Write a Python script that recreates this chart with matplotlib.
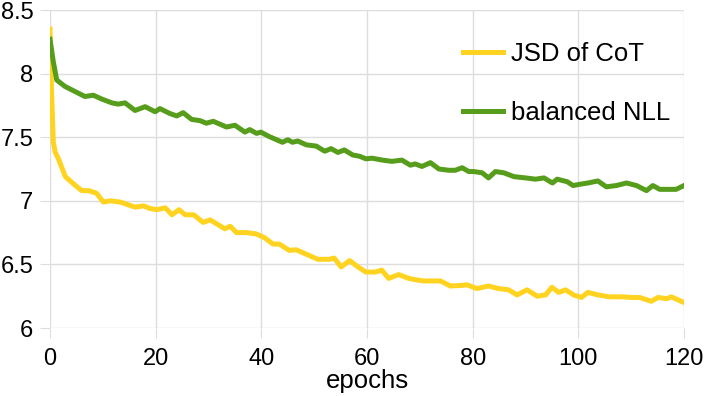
import matplotlib.pyplot as plt

jsd_epochs = [0, 0.3, 0.63, 1.0, 1.6, 2.9, 4.4, 6.0, 7.3, 8.8, 10.1, 11.4, 13.3, 16.1, 17.7, 18.9,
              20.2, 21.8, 23.1, 24.4, 25.6, 27.2, 29.0, 30.3, 31.9, 33.1, 34.1, 35.3, 37.2, 39.0,
              40.6, 42.2, 43.4, 45.3, 46.6, 48.5, 50.7, 52.9, 53.8, 55.1, 56.7, 58.3, 59.8,
              61.6, 62.8, 64.1, 66.0, 67.9, 69.1, 70.7, 72.3, 73.9, 75.8, 78.0, 78.9, 80.8,
              83.0, 84.9, 86.8, 88.4, 90.3, 92.2, 93.8, 95.0, 96.3, 97.6, 99.1, 100.6, 101.8,
              103.7, 105.9, 108.5, 110.0, 111.6, 113.8, 115.1, 116.7, 117.6, 120.0]
jsd_values = [8.35, 7.85, 7.46, 7.38, 7.33, 7.19, 7.135, 7.08, 7.08, 7.06, 6.99, 7.0, 6.99, 6.95, 6.96, 6.94,
              6.93, 6.945, 6.89, 6.93, 6.89, 6.89, 6.83, 6.85, 6.81, 6.78, 6.80, 6.75, 6.75, 6.74,
              6.71, 6.66, 6.66, 6.61, 6.615, 6.58, 6.54, 6.54, 6.55, 6.48, 6.53, 6.48, 6.44,
              6.44, 6.455, 6.39, 6.42, 6.39, 6.38, 6.37, 6.37, 6.37, 6.33, 6.335, 6.34, 6.31,
              6.33, 6.31, 6.30, 6.26, 6.30, 6.25, 6.26, 6.32, 6.28, 6.30, 6.26, 6.24, 6.28,
              6.26, 6.245, 6.245, 6.24, 6.24, 6.21, 6.24, 6.23, 6.245, 6.20]

nll_epochs = [0, 0.6, 1.26, 2.8, 4.7, 6.6, 8.2, 9.8, 11.7, 12.9, 14.2, 16.1, 18.0, 19.9,
              20.8, 22.7, 24.0, 25.2, 26.8, 28.4, 29.6, 30.9, 33.4, 35.0, 36.9, 37.8, 39.1, 39.9,
              41.5, 44.0, 45.0, 45.9, 46.9, 48.5, 50.4, 52.0, 53.2, 54.5, 55.7, 57.3, 58.6, 59.8,
              60.95, 62.9, 64.7, 66.6, 68.2, 69.1, 70.4, 72.0, 73.6, 75.5, 76.7, 78.0, 79.25,
              80.2, 81.8, 83.0, 84.3, 85.9, 87.8, 90.0, 91.9, 93.5, 95.1, 96.0, 97.9, 99.0,
              100.3, 101.8, 103.7, 105.3, 107.2, 109.1, 111.0, 112.9, 114.1, 115.4, 117.0, 118.5, 120.0]
nll_values = [8.27, 8.1, 7.95, 7.90, 7.86, 7.82, 7.83, 7.80, 7.77, 7.76, 7.77, 7.71, 7.74, 7.70,
              7.725, 7.686, 7.667, 7.693, 7.64, 7.63, 7.61, 7.625, 7.58, 7.594, 7.54, 7.56, 7.53, 7.54,
              7.505, 7.46, 7.48, 7.46, 7.47, 7.44, 7.43, 7.39, 7.41, 7.38, 7.40, 7.36, 7.35, 7.33,
              7.335, 7.32, 7.31, 7.32, 7.28, 7.29, 7.27, 7.30, 7.25, 7.24, 7.24, 7.26, 7.23,
              7.23, 7.22, 7.18, 7.23, 7.22, 7.19, 7.18, 7.17, 7.18, 7.14, 7.17, 7.15, 7.12,
              7.13, 7.14, 7.156, 7.11, 7.12, 7.14, 7.12, 7.08, 7.12, 7.09, 7.09, 7.09, 7.12]

plt.rcParams['font.family'] = ['Liberation Sans', 'DejaVu Sans']

fig = plt.figure(figsize=(7.06, 3.96), dpi=100)
ax = fig.add_axes([50 / 706, 1 - 328 / 396, 634 / 706, 318 / 396])

ax.plot(jsd_epochs, jsd_values, color='#ffd320', lw=3.6, label='JSD of CoT', solid_joinstyle='round')
ax.plot(nll_epochs, nll_values, color='#579d1c', lw=3.6, label='balanced NLL', solid_joinstyle='round')

ax.set_xlim(0, 120)
ax.set_ylim(6, 8.5)
ax.set_xticks(range(0, 121, 20))
ax.set_yticks([6, 6.5, 7, 7.5, 8, 8.5])
ax.set_yticklabels(['6', '6.5', '7', '7.5', '8', '8.5'])
ax.grid(True, color='#dddddd', lw=1)
ax.set_axisbelow(True)
for s in ax.spines.values():
    s.set_visible(False)
ax.tick_params(colors='#dddddd', labelcolor='black', labelsize=17, length=7)
ax.tick_params(axis='y', pad=5)
ax.tick_params(axis='x', pad=7.5)
ax.set_xlabel('epochs', fontsize=18.5, labelpad=-1)

ax.legend(loc='center left', bbox_to_anchor=(0.615, 0.770), frameon=False, fontsize=18.5,
          handlelength=1.55, handletextpad=0.3, labelspacing=1.37)

plt.savefig('out.png', dpi=100)
